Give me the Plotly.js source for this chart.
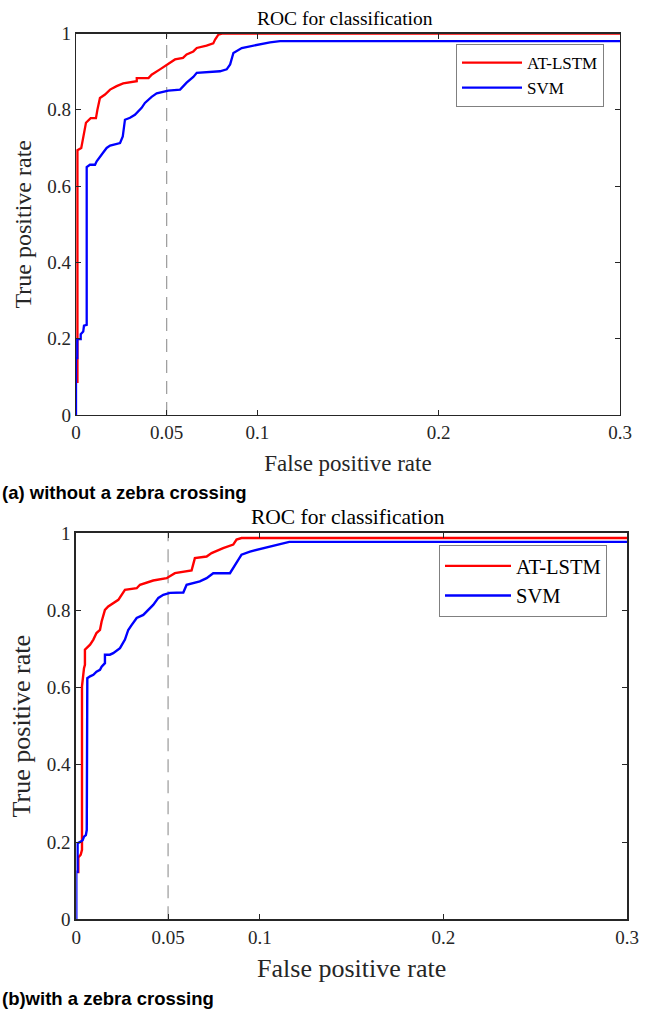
<!DOCTYPE html>
<html>
<head>
<meta charset="utf-8">
<script src="https://cdn.plot.ly/plotly-3.0.1.min.js"></script>
<style>html,body{margin:0;padding:0;background:#fff;}#chart{width:647px;height:1009px;}</style>
</head>
<body>
<div id="chart"></div>
<script>
// ---- Data ----
const seriesNames = ['AT-LSTM', 'SVM'];
const plotTitle = 'ROC for classification';
const xTitle = 'False positive rate';
const yTitle = 'True positive rate';
const captionA = '(a) without a zebra crossing';
const captionB = '(b)with a zebra crossing';
const xTickVals = [0, 0.05, 0.1, 0.2, 0.3];
const xTickText = ['0', '0.05', '0.1', '0.2', '0.3'];
const yTickVals = [0, 0.2, 0.4, 0.6, 0.8, 1];
const yTickText = ['0', '0.2', '0.4', '0.6', '0.8', '1'];
const refFpr = 0.05;

// (a) without a zebra crossing
const aLstmFprA = [0.0008, 0.0008, 0.0029, 0.0044, 0.0055, 0.0081, 0.011, 0.0118, 0.0132, 0.016, 0.0188, 0.0224, 0.026, 0.0335, 0.0335, 0.040, 0.0417, 0.0463, 0.049, 0.0518, 0.0546, 0.059, 0.061, 0.0647, 0.0666, 0.072, 0.0757, 0.0767, 0.0785, 0.081, 0.3];
const aLstmTprA = [0.084, 0.694, 0.700, 0.739, 0.766, 0.778, 0.778, 0.800, 0.831, 0.840, 0.853, 0.862, 0.869, 0.875, 0.883, 0.883, 0.892, 0.906, 0.914, 0.923, 0.932, 0.936, 0.945, 0.953, 0.962, 0.968, 0.974, 0.984, 0.997, 1.0, 1.0];
const svmFprA = [0, 0, 0.0007, 0.0007, 0.0026, 0.0026, 0.004, 0.0044, 0.0059, 0.0059, 0.0077, 0.0105, 0.0114, 0.0132, 0.015, 0.0169, 0.0188, 0.0243, 0.0258, 0.027, 0.0298, 0.0325, 0.0362, 0.038, 0.0417, 0.0445, 0.0509, 0.0574, 0.061, 0.0647, 0.0666, 0.0794, 0.0831, 0.085, 0.0868, 0.0914, 0.0997, 0.107, 0.1125, 0.3];
const svmTprA = [0, 0.149, 0.149, 0.199, 0.199, 0.212, 0.219, 0.234, 0.236, 0.650, 0.656, 0.656, 0.665, 0.678, 0.688, 0.700, 0.706, 0.713, 0.730, 0.774, 0.779, 0.787, 0.805, 0.818, 0.834, 0.843, 0.850, 0.853, 0.871, 0.886, 0.897, 0.901, 0.906, 0.919, 0.949, 0.962, 0.971, 0.977, 0.980, 0.980];

// (b) with a zebra crossing
const aLstmFprB = [0.0011, 0.0011, 0.0024, 0.0031, 0.0031, 0.0038, 0.0042, 0.0047, 0.0047, 0.0075, 0.0093, 0.011, 0.0129, 0.0138, 0.0156, 0.0174, 0.0201, 0.0229, 0.0265, 0.0329, 0.0347, 0.0419, 0.0492, 0.0537, 0.0628, 0.0637, 0.0646, 0.071, 0.0737, 0.080, 0.0855, 0.0873, 0.090, 0.3];
const aLstmTprB = [0.119, 0.160, 0.167, 0.180, 0.603, 0.637, 0.650, 0.659, 0.698, 0.711, 0.724, 0.741, 0.749, 0.771, 0.801, 0.810, 0.819, 0.827, 0.853, 0.857, 0.866, 0.877, 0.883, 0.896, 0.903, 0.922, 0.935, 0.939, 0.948, 0.961, 0.970, 0.983, 0.987, 0.987];
const svmFprB = [0, 0, 0.0007, 0.0007, 0.0024, 0.0035, 0.0042, 0.0052, 0.0057, 0.006, 0.0075, 0.0093, 0.011, 0.0129, 0.0138, 0.0156, 0.0156, 0.0183, 0.0201, 0.0238, 0.0265, 0.0283, 0.0302, 0.0329, 0.0365, 0.0392, 0.0419, 0.0447, 0.0474, 0.051, 0.0583, 0.0601, 0.0673, 0.071, 0.0746, 0.0837, 0.0855, 0.0873, 0.0891, 0.090, 0.0946, 0.1018, 0.1109, 0.116, 0.3];
const svmTprB = [0, 0.123, 0.123, 0.197, 0.201, 0.205, 0.214, 0.218, 0.231, 0.624, 0.629, 0.633, 0.641, 0.646, 0.654, 0.663, 0.685, 0.685, 0.689, 0.702, 0.724, 0.749, 0.762, 0.780, 0.788, 0.801, 0.814, 0.832, 0.840, 0.845, 0.846, 0.866, 0.875, 0.883, 0.896, 0.896, 0.909, 0.922, 0.935, 0.944, 0.952, 0.961, 0.972, 0.977, 0.977];

// ---- Styling ----
const SERIF = 'Liberation Serif, Times New Roman, serif';
const SANS = 'Liberation Sans, Arial, sans-serif';
const AX = '#262626';
const RED = '#ff0000', BLUE = '#0000ff';

const traces = [
  {x: [refFpr, refFpr], y: [0, 1], xaxis: 'x', yaxis: 'y', mode: 'lines', showlegend: false, hoverinfo: 'skip',
   line: {color: '#9a9a9a', width: 1.2, dash: '13px,8px'}},
  {x: [refFpr, refFpr], y: [0, 1], xaxis: 'x2', yaxis: 'y2', mode: 'lines', showlegend: false, hoverinfo: 'skip',
   line: {color: '#9a9a9a', width: 1.2, dash: '13px,8px'}},
  {x: aLstmFprA, y: aLstmTprA, name: seriesNames[0], xaxis: 'x', yaxis: 'y', mode: 'lines', legend: 'legend',
   line: {color: RED, width: 2.3}},
  {x: svmFprA, y: svmTprA, name: seriesNames[1], xaxis: 'x', yaxis: 'y', mode: 'lines', legend: 'legend',
   line: {color: BLUE, width: 2.3}},
  {x: aLstmFprB, y: aLstmTprB, name: seriesNames[0], xaxis: 'x2', yaxis: 'y2', mode: 'lines', legend: 'legend2',
   line: {color: RED, width: 2.4}},
  {x: svmFprB, y: svmTprB, name: seriesNames[1], xaxis: 'x2', yaxis: 'y2', mode: 'lines', legend: 'legend2',
   line: {color: BLUE, width: 2.4}}
];

function xAxis(domain, anchor, lw, tickSize, titleSize, standoff) {
  return {
    domain: domain, anchor: anchor, range: [0, 0.3], tickvals: xTickVals, ticktext: xTickText,
    ticks: 'inside', ticklen: 5, tickwidth: 1, tickcolor: AX, showline: true, mirror: 'allticks',
    linecolor: AX, linewidth: lw, showgrid: false, zeroline: false, fixedrange: true,
    tickfont: {family: SERIF, size: tickSize, color: AX},
    title: {text: xTitle, font: {family: SERIF, size: titleSize, color: AX}, standoff: standoff}
  };
}
function yAxis(domain, anchor, lw, tickSize, titleSize, standoff) {
  return {
    domain: domain, anchor: anchor, range: [0, 1], tickvals: yTickVals, ticktext: yTickText,
    ticks: 'inside', ticklen: 5, tickwidth: 1, tickcolor: AX, showline: true, mirror: 'allticks',
    linecolor: AX, linewidth: lw, showgrid: false, zeroline: false, fixedrange: true,
    tickfont: {family: SERIF, size: tickSize, color: AX},
    title: {text: yTitle, font: {family: SERIF, size: titleSize, color: AX}, standoff: standoff}
  };
}

const W = 647, H = 1009;
const layout = {
  width: W, height: H,
  margin: {l: 0, r: 0, t: 0, b: 0},
  paper_bgcolor: '#fff', plot_bgcolor: '#fff',
  xaxis: xAxis([76 / W, 620 / W], 'y', 1.3, 19, 23, 12),
  yaxis: yAxis([1 - 415 / H, 1 - 33.5 / H], 'x', 1.3, 19, 24, 8),
  xaxis2: xAxis([76.3 / W, 627 / W], 'y2', 2, 19, 26, 12),
  yaxis2: yAxis([1 - 919.3 / H, 1 - 533 / H], 'x2', 2, 19, 26, 9),
  legend: {x: 604 / W, y: 1 - 44 / H, xanchor: 'right', yanchor: 'top', bgcolor: '#fff',
    bordercolor: '#808080', borderwidth: 1, font: {family: SERIF, size: 17, color: '#000'},
    itemwidth: 60, tracegroupgap: 0},
  legend2: {x: 607 / W, y: 1 - 545 / H, xanchor: 'right', yanchor: 'top', bgcolor: '#fff',
    bordercolor: '#808080', borderwidth: 1, font: {family: SERIF, size: 20.5, color: '#000'},
    itemwidth: 66, tracegroupgap: 0},
  annotations: [
    {text: plotTitle, xref: 'paper', yref: 'paper', x: 345.5 / W, y: 1 - 19 / H, xanchor: 'center', yanchor: 'middle',
     showarrow: false, font: {family: SERIF, size: 19.5, color: '#000'}},
    {text: plotTitle, xref: 'paper', yref: 'paper', x: 347.5 / W, y: 1 - 517 / H, xanchor: 'center', yanchor: 'middle',
     showarrow: false, font: {family: SERIF, size: 21.5, color: '#000'}},
    {text: '<b>' + captionA + '</b>', xref: 'paper', yref: 'paper', x: 0, y: 1 - 492 / H, xanchor: 'left', yanchor: 'middle',
     showarrow: false, font: {family: SANS, size: 18.5, color: '#000'}},
    {text: '<b>' + captionB + '</b>', xref: 'paper', yref: 'paper', x: 0, y: 1 - 998 / H, xanchor: 'left', yanchor: 'middle',
     showarrow: false, font: {family: SANS, size: 18.5, color: '#000'}}
  ]
};

Plotly.newPlot('chart', traces, layout, {displayModeBar: false, staticPlot: true});
</script>
</body>
</html>
